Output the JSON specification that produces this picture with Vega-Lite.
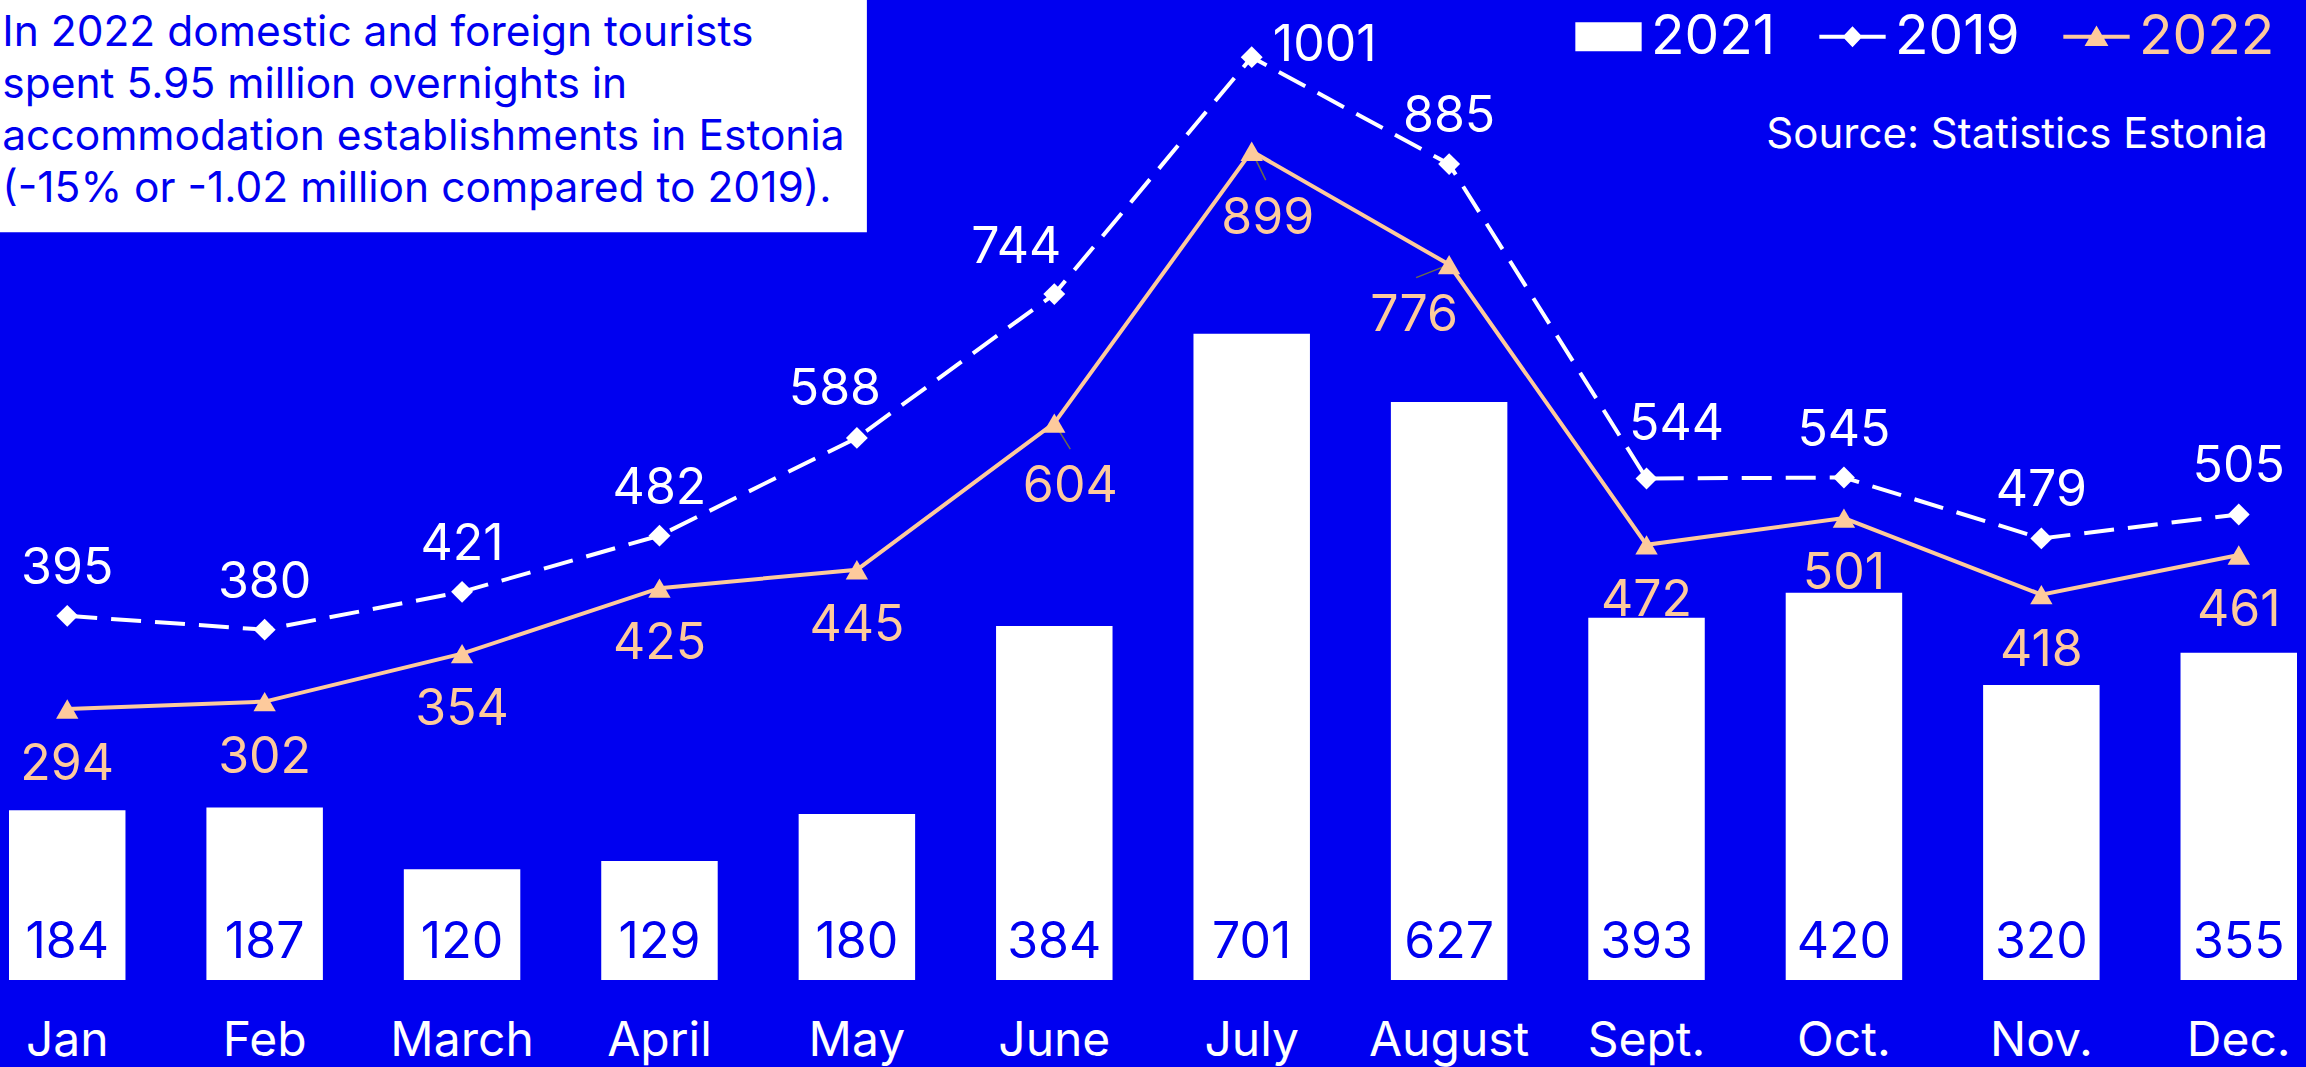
{
  "$schema": "https://vega.github.io/schema/vega-lite/v6.json",
  "width": 2288,
  "height": 980,
  "autosize": "none",
  "padding": {"left": 9, "top": 0, "right": 9, "bottom": 87},
  "background": "#0000F0",
  "config": {"view": {"stroke": null}, "font": "Inter", "text": {"font": "Inter"}},
  "datasets": {
    "bars": [
      {"month": "Jan", "value": 184}, {"month": "Feb", "value": 187}, {"month": "March", "value": 120},
      {"month": "April", "value": 129}, {"month": "May", "value": 180}, {"month": "June", "value": 384},
      {"month": "July", "value": 701}, {"month": "August", "value": 627}, {"month": "Sept.", "value": 393},
      {"month": "Oct.", "value": 420}, {"month": "Nov.", "value": 320}, {"month": "Dec.", "value": 355}
    ],
    "lines": [
      {"month": "Jan", "series": "2019", "value": 395}, {"month": "Feb", "series": "2019", "value": 380},
      {"month": "March", "series": "2019", "value": 421}, {"month": "April", "series": "2019", "value": 482},
      {"month": "May", "series": "2019", "value": 588}, {"month": "June", "series": "2019", "value": 744},
      {"month": "July", "series": "2019", "value": 1001}, {"month": "August", "series": "2019", "value": 885},
      {"month": "Sept.", "series": "2019", "value": 544}, {"month": "Oct.", "series": "2019", "value": 545},
      {"month": "Nov.", "series": "2019", "value": 479}, {"month": "Dec.", "series": "2019", "value": 505},
      {"month": "Jan", "series": "2022", "value": 294}, {"month": "Feb", "series": "2022", "value": 302},
      {"month": "March", "series": "2022", "value": 354}, {"month": "April", "series": "2022", "value": 425},
      {"month": "May", "series": "2022", "value": 445}, {"month": "June", "series": "2022", "value": 604},
      {"month": "July", "series": "2022", "value": 899}, {"month": "August", "series": "2022", "value": 776},
      {"month": "Sept.", "series": "2022", "value": 472}, {"month": "Oct.", "series": "2022", "value": 501},
      {"month": "Nov.", "series": "2022", "value": 418}, {"month": "Dec.", "series": "2022", "value": 461}
    ],
    "note": [{"text": "In 2022 domestic and foreign tourists\nspent 5.95 million overnights in\naccommodation establishments in Estonia\n(-15% or -1.02 million compared to 2019)."}],
    "credit": [{"text": "Source: Statistics Estonia"}]
  },
  "layer": [
    {
      "data": {"name": "bars"},
      "mark": {"type": "bar", "color": "#FFFFFF"},
      "encoding": {
        "x": {
          "field": "month", "type": "nominal",
          "scale": {"domain": ["Jan", "Feb", "March", "April", "May", "June", "July", "August", "Sept.", "Oct.", "Nov.", "Dec."], "paddingInner": 0.41, "paddingOuter": 0},
          "axis": {"title": null, "domain": false, "ticks": false, "tickSize": 0, "grid": false, "labelAngle": 0, "labelFont": "Inter", "labelFontSize": 48, "labelColor": "#FFFFFF", "labelBaseline": "alphabetic", "labelPadding": 75}
        },
        "y": {"field": "value", "type": "quantitative", "scale": {"domain": [0, 1063], "nice": false, "zero": true}, "axis": null}
      }
    },
    {
      "data": {"name": "bars"},
      "mark": {"type": "text", "fontSize": 50, "fill": "#0000F0", "baseline": "alphabetic", "dy": -22},
      "encoding": {
        "x": {"field": "month", "type": "nominal"},
        "y": {"datum": 0, "type": "quantitative", "axis": null},
        "text": {"field": "value", "type": "quantitative"}
      }
    },
    {
      "data": {"name": "lines"},
      "transform": [{"filter": "datum.series === '2019'"}],
      "mark": {"type": "line", "stroke": "#FFFFFF", "strokeWidth": 4, "strokeDash": [30, 14]},
      "encoding": {"x": {"field": "month", "type": "nominal"}, "y": {"field": "value", "type": "quantitative", "axis": null}}
    },
    {
      "data": {"name": "lines"},
      "transform": [{"filter": "datum.series === '2022'"}],
      "mark": {"type": "line", "stroke": "#FDCA9C", "strokeWidth": 4},
      "encoding": {"x": {"field": "month", "type": "nominal"}, "y": {"field": "value", "type": "quantitative", "axis": null}}
    },
    {
      "data": {"name": "lines"},
      "transform": [{"filter": "datum.month === 'June' && datum.series === '2022'"}],
      "mark": {"type": "rule", "stroke": "#6B6B4A", "strokeWidth": 1.5, "x2Offset": 16, "y2Offset": 26},
      "encoding": {"x": {"field": "month", "type": "nominal"}, "x2": {"field": "month"}, "y": {"field": "value", "type": "quantitative", "axis": null}, "y2": {"field": "value"}}
    },
    {
      "data": {"name": "lines"},
      "transform": [{"filter": "datum.month === 'July' && datum.series === '2022'"}],
      "mark": {"type": "rule", "stroke": "#6B6B4A", "strokeWidth": 1.5, "x2Offset": 14, "y2Offset": 29},
      "encoding": {"x": {"field": "month", "type": "nominal"}, "x2": {"field": "month"}, "y": {"field": "value", "type": "quantitative", "axis": null}, "y2": {"field": "value"}}
    },
    {
      "data": {"name": "lines"},
      "transform": [{"filter": "datum.month === 'August' && datum.series === '2022'"}],
      "mark": {"type": "rule", "stroke": "#6B6B4A", "strokeWidth": 1.5, "x2Offset": -33, "y2Offset": 13},
      "encoding": {"x": {"field": "month", "type": "nominal"}, "x2": {"field": "month"}, "y": {"field": "value", "type": "quantitative", "axis": null}, "y2": {"field": "value"}}
    },
    {
      "data": {"name": "lines"},
      "transform": [{"filter": "datum.series === '2019'"}],
      "mark": {"type": "point", "shape": "diamond", "filled": true, "size": 480, "opacity": 1, "fill": "#FFFFFF", "strokeWidth": 0},
      "encoding": {"x": {"field": "month", "type": "nominal"}, "y": {"field": "value", "type": "quantitative", "axis": null}}
    },
    {
      "data": {"name": "lines"},
      "transform": [{"filter": "datum.series === '2022'"}],
      "mark": {"type": "point", "shape": "triangle-up", "filled": true, "size": 500, "opacity": 1, "fill": "#FDCA9C", "strokeWidth": 0},
      "encoding": {"x": {"field": "month", "type": "nominal"}, "y": {"field": "value", "type": "quantitative", "axis": null}}
    },
    {
      "data": {"name": "lines"},
      "transform": [{"filter": "false"}],
      "mark": {"type": "point", "filled": true, "opacity": 1},
      "encoding": {
        "x": {"field": "month", "type": "nominal"},
        "y": {"field": "value", "type": "quantitative", "axis": null},
        "color": {
          "field": "series", "type": "nominal",
          "scale": {"domain": ["2021", "2019", "2022"], "range": ["#FFFFFF", "#FFFFFF", "#FDCA9C"]},
          "legend": {
            "orient": "none", "legendX": 1566, "legendY": 3, "direction": "horizontal", "title": null,
            "padding": 0, "labelFont": "Inter", "labelFontSize": 55, "labelOffset": 9, "columnPadding": 43,
            "symbolSize": 4400, "symbolStrokeWidth": 0, "symbolOpacity": 1, "labelColor": "#FFFFFF",
            "encode": {
              "labels": {"update": {"fill": {"signal": "datum.value === '2022' ? '#FDCA9C' : '#FFFFFF'"}}}
            }
          }
        },
        "shape": {
          "field": "series", "type": "nominal",
          "scale": {"domain": ["2021", "2019", "2022"], "range": ["M-1,-0.44H1V0.44H-1Z", "M-1,-0.06H1V0.06H-1Z M0,-0.32L0.3,0L0,0.32L-0.3,0Z", "M-1,-0.06H1V0.06H-1Z M0,-0.34L0.36,0.28L-0.36,0.28Z"]},
          "legend": null
        }
      }
    },
    {
      "data": {"name": "lines"},
      "transform": [{"filter": "datum.series === '2019' && datum.month !== 'July' && datum.month !== 'June' && datum.month !== 'May' && datum.month !== 'Sept.'"}],
      "mark": {"type": "text", "fontSize": 50, "fill": "#FFFFFF", "baseline": "middle", "dy": -47},
      "encoding": {"x": {"field": "month", "type": "nominal"}, "y": {"field": "value", "type": "quantitative", "axis": null}, "text": {"field": "value", "type": "quantitative"}}
    },
    {
      "data": {"name": "lines"},
      "transform": [{"filter": "datum.series === '2019' && datum.month === 'May'"}],
      "mark": {"type": "text", "fontSize": 50, "fill": "#FFFFFF", "baseline": "middle", "dx": -22, "dy": -48},
      "encoding": {"x": {"field": "month", "type": "nominal"}, "y": {"field": "value", "type": "quantitative", "axis": null}, "text": {"field": "value", "type": "quantitative"}}
    },
    {
      "data": {"name": "lines"},
      "transform": [{"filter": "datum.series === '2019' && datum.month === 'June'"}],
      "mark": {"type": "text", "fontSize": 50, "fill": "#FFFFFF", "baseline": "middle", "dx": -38, "dy": -46},
      "encoding": {"x": {"field": "month", "type": "nominal"}, "y": {"field": "value", "type": "quantitative", "axis": null}, "text": {"field": "value", "type": "quantitative"}}
    },
    {
      "data": {"name": "lines"},
      "transform": [{"filter": "datum.series === '2019' && datum.month === 'July'"}],
      "mark": {"type": "text", "fontSize": 50, "fill": "#FFFFFF", "baseline": "middle", "dx": 73, "dy": -11},
      "encoding": {"x": {"field": "month", "type": "nominal"}, "y": {"field": "value", "type": "quantitative", "axis": null}, "text": {"field": "value", "type": "quantitative"}}
    },
    {
      "data": {"name": "lines"},
      "transform": [{"filter": "datum.series === '2019' && datum.month === 'Sept.'"}],
      "mark": {"type": "text", "fontSize": 50, "fill": "#FFFFFF", "baseline": "middle", "dx": 30, "dy": -53},
      "encoding": {"x": {"field": "month", "type": "nominal"}, "y": {"field": "value", "type": "quantitative", "axis": null}, "text": {"field": "value", "type": "quantitative"}}
    },
    {
      "data": {"name": "lines"},
      "transform": [{"filter": "datum.series === '2022' && datum.month !== 'June' && datum.month !== 'July' && datum.month !== 'August'"}],
      "mark": {"type": "text", "fontSize": 50, "fill": "#FDCA9C", "baseline": "middle", "dy": 56},
      "encoding": {"x": {"field": "month", "type": "nominal"}, "y": {"field": "value", "type": "quantitative", "axis": null}, "text": {"field": "value", "type": "quantitative"}}
    },
    {
      "data": {"name": "lines"},
      "transform": [{"filter": "datum.series === '2022' && datum.month === 'June'"}],
      "mark": {"type": "text", "fontSize": 50, "fill": "#FDCA9C", "baseline": "middle", "dx": 16, "dy": 64},
      "encoding": {"x": {"field": "month", "type": "nominal"}, "y": {"field": "value", "type": "quantitative", "axis": null}, "text": {"field": "value", "type": "quantitative"}}
    },
    {
      "data": {"name": "lines"},
      "transform": [{"filter": "datum.series === '2022' && datum.month === 'July'"}],
      "mark": {"type": "text", "fontSize": 50, "fill": "#FDCA9C", "baseline": "middle", "dx": 16, "dy": 68},
      "encoding": {"x": {"field": "month", "type": "nominal"}, "y": {"field": "value", "type": "quantitative", "axis": null}, "text": {"field": "value", "type": "quantitative"}}
    },
    {
      "data": {"name": "lines"},
      "transform": [{"filter": "datum.series === '2022' && datum.month === 'August'"}],
      "mark": {"type": "text", "fontSize": 50, "fill": "#FDCA9C", "baseline": "middle", "dx": -35, "dy": 51},
      "encoding": {"x": {"field": "month", "type": "nominal"}, "y": {"field": "value", "type": "quantitative", "axis": null}, "text": {"field": "value", "type": "quantitative"}}
    },
    {
      "data": {"name": "note"},
      "mark": {"type": "rect", "color": "#FFFFFF", "xOffset": -80, "x2Offset": 10},
      "encoding": {
        "x": {"datum": "Jan", "type": "nominal"}, "x2": {"datum": "May"},
        "y": {"datum": 1063, "type": "quantitative", "axis": null}, "y2": {"datum": 811}
      }
    },
    {
      "data": {"name": "note"},
      "mark": {"type": "text", "align": "left", "baseline": "alphabetic", "fontSize": 42.5, "lineHeight": 52, "lineBreak": "\n", "fill": "#0000F0", "dx": -65, "dy": 46},
      "encoding": {
        "x": {"datum": "Jan", "type": "nominal"}, "y": {"datum": 1063, "type": "quantitative", "axis": null},
        "text": {"field": "text", "type": "nominal"}
      }
    },
    {
      "data": {"name": "credit"},
      "mark": {"type": "text", "align": "right", "baseline": "middle", "fontSize": 42, "fill": "#FFFFFF", "dx": 29},
      "encoding": {
        "x": {"datum": "Dec.", "type": "nominal"}, "y": {"datum": 917, "type": "quantitative", "axis": null},
        "text": {"field": "text", "type": "nominal"}
      }
    }
  ]
}
